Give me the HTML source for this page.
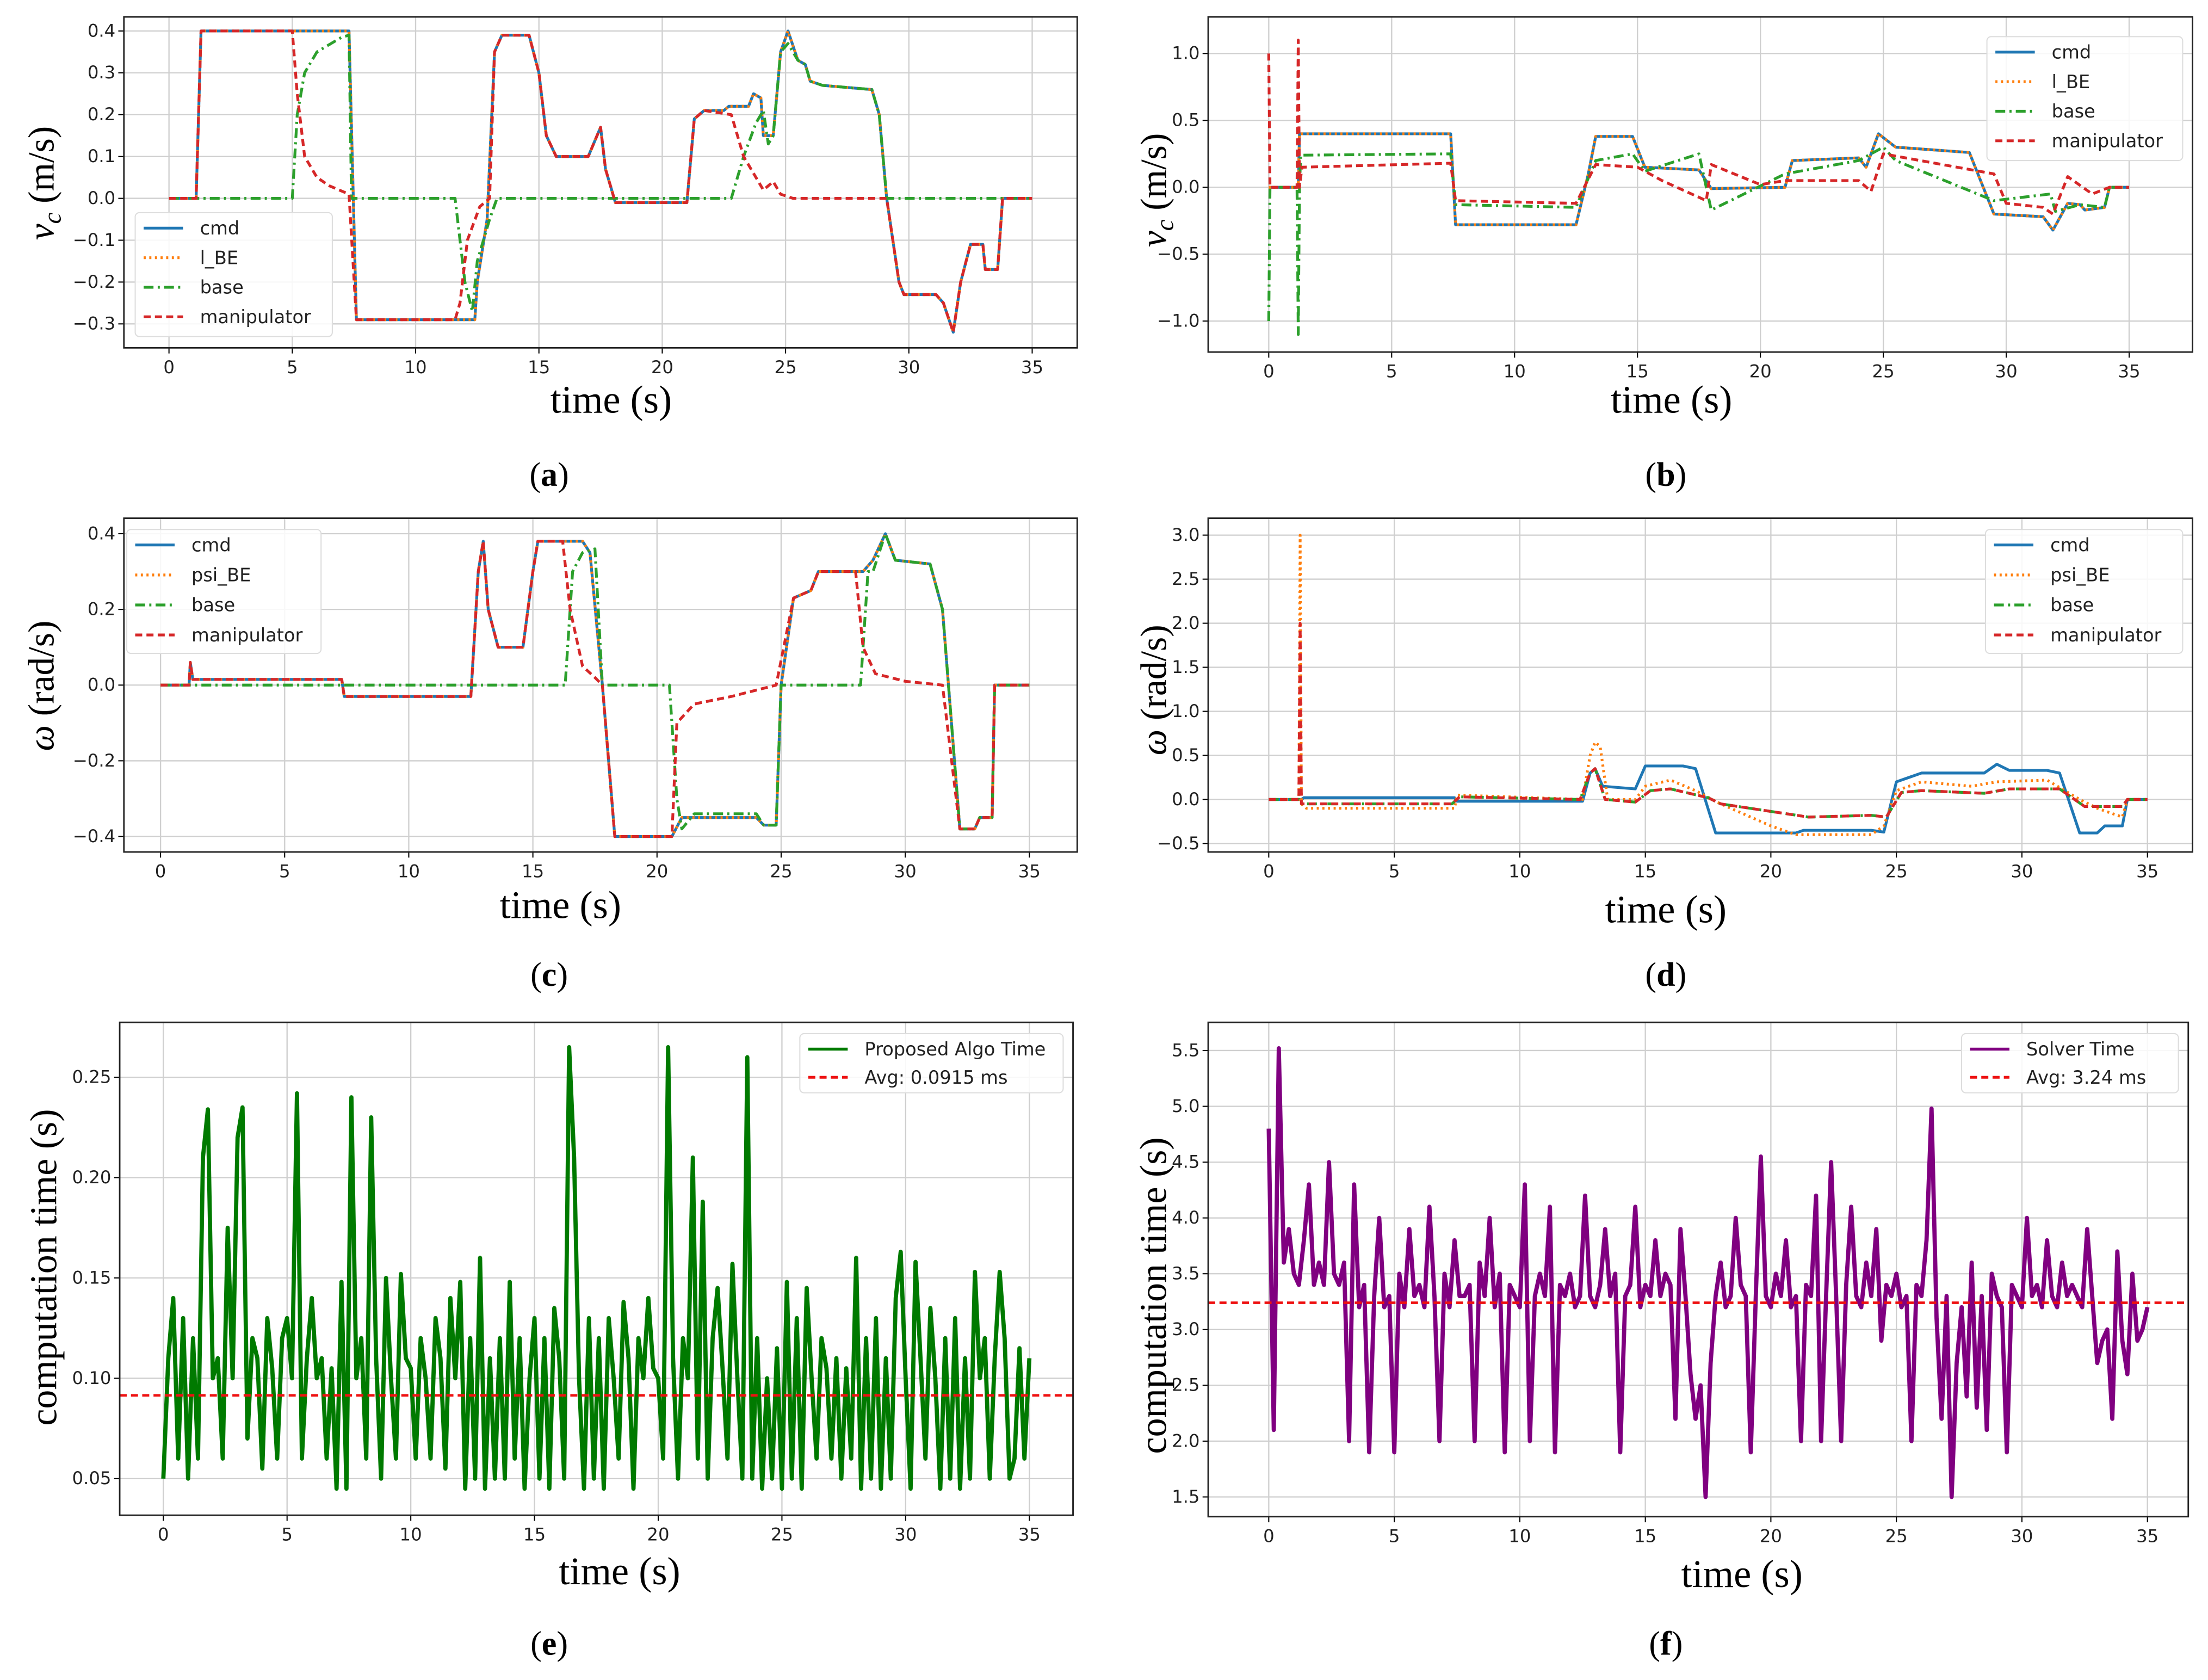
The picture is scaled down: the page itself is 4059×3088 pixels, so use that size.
<!DOCTYPE html>
<html><head><meta charset="utf-8"><style>
html,body{margin:0;padding:0;background:#fff;}
svg{display:block;}
.tk{font-family:"DejaVu Sans","Liberation Sans",sans-serif;font-size:12.5px;fill:#222;}
.lg{font-family:"DejaVu Sans","Liberation Sans",sans-serif;font-size:13px;fill:#222;}
.ser{font-family:"Liberation Serif",serif;fill:#000;}
</style></head><body>
<svg id="fig" width="4059" height="3088" viewBox="0 0 1568 1193" preserveAspectRatio="none" xmlns="http://www.w3.org/2000/svg"></svg>
<script>
// ---------- Panel (a) data: linear velocity ----------
const aCmdT = [0,1.1,1.3,7.3,7.6,12.4,12.5,12.9,13.2,13.5,14.6,15.0,15.3,15.7,17.0,17.5,17.7,18.1,21.0,21.3,21.7,22.5,22.7,23.5,23.7,24.0,24.1,24.5,24.8,25.1,25.5,25.8,26.0,26.5,28.5,28.8,29.1,29.6,29.8,31.1,31.4,31.8,32.1,32.5,33.0,33.1,33.6,33.8,35];
const aCmdV = [0,0,0.4,0.4,-0.29,-0.29,-0.2,-0.05,0.35,0.39,0.39,0.3,0.15,0.1,0.1,0.17,0.07,-0.01,-0.01,0.19,0.21,0.21,0.22,0.22,0.25,0.24,0.15,0.15,0.35,0.40,0.33,0.32,0.28,0.27,0.26,0.2,0.0,-0.2,-0.23,-0.23,-0.25,-0.32,-0.2,-0.11,-0.11,-0.17,-0.17,0.0,0];
const aManT = [0,1.1,1.3,5.0,5.2,5.5,6.0,6.5,7.3,7.6,11.6,11.8,12.1,12.6,13.0,13.2,13.5,14.6,15.0,15.3,15.7,17.0,17.5,17.7,18.1,21.0,21.3,21.7,22.8,23.3,23.8,24.1,24.5,24.8,25.3,28.5,29.1,29.6,29.8,31.1,31.4,31.8,32.1,32.5,33.0,33.1,33.6,33.8,35];
const aManV = [0,0,0.4,0.4,0.25,0.1,0.05,0.03,0.01,-0.29,-0.29,-0.25,-0.1,-0.02,0,0.35,0.39,0.39,0.3,0.15,0.1,0.1,0.17,0.07,-0.01,-0.01,0.19,0.21,0.2,0.1,0.05,0.02,0.04,0.01,0,0,0.0,-0.2,-0.23,-0.23,-0.25,-0.32,-0.2,-0.11,-0.11,-0.17,-0.17,0.0,0];
const aBaseT = [0,5.0,5.2,5.5,6.0,7.0,7.3,7.4,11.6,12.0,12.3,12.5,13.0,13.3,22.8,23.3,23.8,24.1,24.3,24.5,24.8,25.1,25.5,25.8,26.0,26.5,28.5,28.8,29.1,35];
const aBaseV = [0,0,0.2,0.3,0.35,0.385,0.39,0,0,-0.2,-0.27,-0.15,-0.05,0,0,0.1,0.18,0.21,0.13,0.15,0.35,0.37,0.33,0.32,0.28,0.27,0.26,0.2,0,0];
// ---------- Panel (b) ----------
const bCmdT = [0,1.2,1.25,7.4,7.6,12.5,13.0,13.3,14.8,15.3,17.5,18.0,21.0,21.3,24.0,24.3,24.8,25.5,28.5,29.5,31.5,31.9,32.5,33.0,33.2,34.0,34.2,35];
const bCmdV = [0,0,0.4,0.4,-0.28,-0.28,0.1,0.38,0.38,0.15,0.13,-0.01,0.0,0.2,0.22,0.15,0.4,0.3,0.26,-0.2,-0.22,-0.32,-0.12,-0.13,-0.17,-0.15,0,0];
const bBaseT = [0,0.05,1.15,1.2,1.25,1.3,7.4,7.6,12.5,13.3,14.8,15.3,17.5,18.0,21.0,24.0,25.0,25.5,29.5,31.8,32.0,33.0,34.0,34.2,35];
const bBaseV = [-1.0,0,0,-1.1,0.0,0.24,0.25,-0.13,-0.15,0.2,0.25,0.12,0.25,-0.17,0.1,0.2,0.3,0.2,-0.1,-0.05,-0.18,-0.13,-0.15,0,0];
const bManT = [0,0.05,1.15,1.2,1.25,1.35,7.4,7.6,12.5,13.3,15.0,16.0,17.8,18.0,20.0,21.0,24.0,24.5,25.0,29.5,30.0,31.5,31.9,32.5,33.5,34.2,35];
const bManV = [1.0,0,0,1.1,0.0,0.15,0.18,-0.1,-0.12,0.17,0.15,0.05,-0.1,0.17,0.02,0.05,0.05,-0.03,0.25,0.1,-0.12,-0.15,-0.2,0.08,-0.05,0,0];
// ---------- Panel (c) ----------
const cCmdT = [0,1.15,1.2,1.3,7.3,7.4,12.5,12.8,13.0,13.2,13.6,14.6,15.0,15.2,17.0,17.3,17.8,18.3,20.6,21.0,24.0,24.3,24.8,25.0,25.5,26.2,26.5,28.3,28.7,29.2,29.6,31.0,31.5,32.2,32.8,33.0,33.5,33.6,35];
const cCmdV = [0,0,0.06,0.015,0.015,-0.03,-0.03,0.3,0.38,0.2,0.1,0.1,0.3,0.38,0.38,0.35,0,-0.4,-0.4,-0.35,-0.35,-0.37,-0.37,0,0.23,0.25,0.3,0.3,0.33,0.4,0.33,0.32,0.2,-0.38,-0.38,-0.35,-0.35,0,0];
const cManT = [0,1.15,1.2,1.3,7.3,7.4,12.5,12.8,13.0,13.2,13.6,14.6,15.0,15.2,16.2,16.5,17.0,17.5,17.8,18.3,20.6,20.8,21.5,23.0,24.8,25.5,26.2,26.5,28.0,28.3,28.8,30.0,31.5,32.2,32.8,33.0,33.5,33.6,35];
const cManV = [0,0,0.06,0.015,0.015,-0.03,-0.03,0.3,0.38,0.2,0.1,0.1,0.3,0.38,0.38,0.2,0.05,0.02,0,-0.4,-0.4,-0.1,-0.05,-0.03,0,0.23,0.25,0.3,0.3,0.1,0.03,0.01,0,-0.38,-0.38,-0.35,-0.35,0,0];
const cBaseT = [0,16.3,16.6,17.0,17.5,17.8,20.5,20.8,21.0,21.5,24.0,24.3,24.8,25.0,28.2,28.5,28.7,29.2,29.6,31.0,31.5,32.2,32.8,33.0,33.5,33.6,35];
const cBaseV = [0,0,0.3,0.35,0.36,0,0,-0.3,-0.38,-0.34,-0.34,-0.37,-0.37,0,0,0.3,0.3,0.4,0.33,0.32,0.2,-0.38,-0.38,-0.35,-0.35,0,0];
// ---------- Panel (d) ----------
const dCmdT = [0,1.3,1.4,7.4,7.5,12.5,12.8,13.0,13.3,14.6,15.0,16.5,17.0,17.8,21.0,21.3,24.0,24.5,25.0,25.5,26.0,28.5,29.0,29.5,31.0,31.5,32.3,33.0,33.3,34.0,34.2,35];
const dCmdV = [0,0,0.02,0.02,-0.02,-0.02,0.3,0.35,0.15,0.12,0.38,0.38,0.35,-0.38,-0.38,-0.35,-0.35,-0.37,0.2,0.25,0.3,0.3,0.4,0.33,0.33,0.3,-0.38,-0.38,-0.3,-0.3,0,0];
const dPsiT = [0,1.2,1.25,1.3,1.5,7.4,7.5,12.5,12.8,13.0,13.2,13.5,14.6,15.0,16.0,17.0,18.0,20.0,21.0,24.0,24.5,25.0,26.0,28.0,29.0,31.0,32.3,33.0,34.0,34.2,35];
const dPsiV = [0,0,3.0,-0.05,-0.1,-0.1,0.05,0.0,0.5,0.65,0.6,0.0,0.0,0.15,0.22,0.1,-0.05,-0.3,-0.4,-0.4,-0.3,0.1,0.2,0.15,0.2,0.22,0.0,-0.1,-0.2,0,0];
const dBaseT = [0,1.2,1.3,7.3,7.6,12.4,12.8,13.0,13.4,14.6,15.2,16.0,17.5,18.0,21.5,24.0,24.6,25.2,26.0,28.5,29.5,31.5,32.5,34.0,34.2,35];
const dBaseV = [0,0,-0.05,-0.05,0.03,0.0,0.3,0.35,0.0,-0.03,0.1,0.12,0.02,-0.05,-0.2,-0.18,-0.2,0.08,0.1,0.07,0.12,0.12,-0.08,-0.08,0,0];
const dManT = [0,1.2,1.25,1.3,7.3,7.6,12.4,12.8,13.0,13.4,14.6,15.2,16.0,17.5,18.0,21.5,24.0,24.6,25.2,26.0,28.5,29.5,31.5,32.5,34.0,34.2,35];
const dManV = [0,0,2.0,-0.05,-0.05,0.03,0.0,0.3,0.35,0.0,-0.03,0.1,0.12,0.02,-0.05,-0.2,-0.18,-0.2,0.08,0.1,0.07,0.12,0.12,-0.08,-0.08,0,0];
// ---------- Panel (e) computation time, sampled every 0.2 s ----------
const eDt = 0.2;
const eVals = [0.05,0.11,0.14,0.06,0.13,0.05,0.12,0.06,0.21,0.234,
0.10,0.11,0.06,0.175,0.10,0.22,0.235,0.07,0.12,0.11,
0.055,0.13,0.105,0.06,0.12,0.13,0.10,0.242,0.06,0.11,
0.14,0.10,0.11,0.06,0.105,0.045,0.148,0.045,0.24,0.10,
0.12,0.06,0.23,0.11,0.05,0.15,0.10,0.06,0.152,0.11,
0.105,0.06,0.12,0.10,0.06,0.13,0.11,0.055,0.14,0.10,
0.148,0.045,0.12,0.05,0.16,0.045,0.11,0.05,0.12,0.05,
0.148,0.06,0.12,0.045,0.10,0.13,0.05,0.12,0.045,0.135,
0.11,0.05,0.265,0.21,0.10,0.045,0.13,0.05,0.12,0.045,
0.13,0.10,0.06,0.138,0.11,0.045,0.12,0.10,0.14,0.105,
0.10,0.06,0.265,0.11,0.05,0.12,0.10,0.21,0.06,0.188,
0.05,0.12,0.145,0.105,0.06,0.157,0.10,0.05,0.26,0.05,
0.12,0.045,0.10,0.05,0.115,0.045,0.148,0.05,0.13,0.045,
0.145,0.10,0.06,0.12,0.105,0.06,0.11,0.05,0.105,0.06,
0.16,0.045,0.12,0.05,0.13,0.045,0.11,0.05,0.14,0.163,
0.10,0.045,0.158,0.11,0.06,0.135,0.10,0.045,0.12,0.05,
0.13,0.045,0.11,0.05,0.153,0.10,0.12,0.05,0.11,0.153,
0.12,0.05,0.06,0.115,0.06,0.11];
const eAvg = [0.0915];
// ---------- Panel (f) solver time ----------
const fDt = 0.2;
const fVals = [4.8,2.1,5.52,3.6,3.9,3.5,3.4,3.8,4.3,3.4,
3.6,3.4,4.5,3.5,3.4,3.6,2.0,4.3,3.2,3.4,
1.9,3.3,4.0,3.2,3.3,1.9,3.5,3.2,3.9,3.3,
3.4,3.2,4.1,3.3,2.0,3.5,3.2,3.8,3.3,3.3,
3.4,2.0,3.6,3.3,4.0,3.2,3.5,1.9,3.4,3.3,
3.2,4.3,2.0,3.3,3.5,3.3,4.1,1.9,3.4,3.3,
3.5,3.2,3.3,4.2,3.3,3.2,3.4,3.9,3.3,3.5,
1.9,3.3,3.4,4.1,3.2,3.4,3.3,3.8,3.3,3.5,
3.4,2.2,3.9,3.3,2.6,2.2,2.5,1.5,2.7,3.3,
3.6,3.2,3.3,4.0,3.4,3.3,1.9,3.3,4.55,3.3,
3.2,3.5,3.3,3.8,3.2,3.3,2.0,3.4,3.3,4.2,
2.0,3.3,4.5,3.3,2.0,3.4,4.1,3.3,3.2,3.6,
3.3,3.9,2.9,3.4,3.3,3.5,3.2,3.3,2.0,3.4,
3.3,3.8,4.98,3.1,2.2,3.3,1.5,2.7,3.2,2.4,
3.6,2.3,3.3,2.1,3.5,3.3,3.2,1.9,3.4,3.3,
3.2,4.0,3.3,3.4,3.2,3.8,3.3,3.2,3.6,3.3,
3.4,3.3,3.2,3.9,3.3,2.7,2.9,3.0,2.2,3.7,
2.9,2.6,3.5,2.9,3.0,3.2];
const fAvg = [3.24];
const xTicks = [0,5,10,15,20,25,30,35];
const aYTicks = [-0.3,-0.2,-0.1,0.0,0.1,0.2,0.3,0.4];
const bYTicks = [-1.0,-0.5,0.0,0.5,1.0];
const cYTicks = [-0.4,-0.2,0.0,0.2,0.4];
const dYTicks = [-0.5,0.0,0.5,1.0,1.5,2.0,2.5,3.0];
const eYTicks = [0.05,0.10,0.15,0.20,0.25];
const fYTicks = [1.5,2.0,2.5,3.0,3.5,4.0,4.5,5.0,5.5];

const NS = "http://www.w3.org/2000/svg";
const fig = document.getElementById('fig');
function mk(tag, attrs, parent){const e=document.createElementNS(NS,tag);for(const k in attrs)e.setAttribute(k,attrs[k]);(parent||fig).appendChild(e);return e;}
function fmt(v,d){let s=v.toFixed(d);return s.replace('-','\u2212');}

function panel(id, P){
  const g = mk('g',{});
  
  
  const [x0,y0,x1,y1]=P.box;
  const sx = t => P.xp[0] + (P.xp[1]-P.xp[0])*t/35;
  const sy = v => P.yp[0] + (P.yp[1]-P.yp[0])*(v-P.yv[0])/(P.yv[1]-P.yv[0]);
  xTicks.forEach(t=>{
    const l=mk('line',{x1:sx(t),x2:sx(t),y1:y0,y2:y1,stroke:'#cfcfcf','stroke-width':0.9},g);
    
    
    mk('line',{x1:sx(t),x2:sx(t),y1:y1,y2:y1+4,stroke:'#000','stroke-width':0.8},g);
    const tx=mk('text',{x:sx(t),y:y1+18,'text-anchor':'middle',class:'tk'},g);
    tx.textContent=String(t);
    
    
  });
  P.yt.forEach(v=>{
    const l=mk('line',{x1:x0,x2:x1,y1:sy(v),y2:sy(v),stroke:'#cfcfcf','stroke-width':0.9},g);
    
    
    mk('line',{x1:x0-4,x2:x0,y1:sy(v),y2:sy(v),stroke:'#000','stroke-width':0.8},g);
    const tx=mk('text',{x:x0-6,y:sy(v)+4,'text-anchor':'end',class:'tk'},g);
    tx.textContent=fmt(v,P.dec);
    
    
  });
  P.series.forEach(s=>{
    let pts;
    if(s.dt!==undefined){pts=s.v.map((v,i)=>sx(i*s.dt).toFixed(2)+','+sy(v).toFixed(2));}
    else {pts=s.t.map((t,i)=>sx(t).toFixed(2)+','+sy(s.v[i]).toFixed(2));}
    const pl=mk('polyline',{points:pts.join(' '),fill:'none',stroke:s.c,'stroke-width':s.w||2,'stroke-dasharray':s.d||'','stroke-linejoin':'round'},g);
    
    
  });
  if(P.avg!==undefined){
    const al=mk('line',{x1:x0,x2:x1,y1:sy(P.avg),y2:sy(P.avg),stroke:'#ee1111','stroke-width':1.8,'stroke-dasharray':'5,3'},g);
    
    
  }
  const fr=mk('rect',{x:x0,y:y0,width:x1-x0,height:y1-y0,fill:'none',stroke:'#222','stroke-width':1.1},g);
  
  
  const L=P.leg;
  const lg=mk('g',{},g);
  
  
  mk('rect',{x:L.x,y:L.y,width:L.w,height:L.h,rx:3,fill:'#fff','fill-opacity':0.85,stroke:'#ddd','stroke-width':0.8},lg);
  L.items.forEach((it,i)=>{
    const yy=L.y+11+i*L.dy;
    mk('line',{x1:L.x+6,x2:L.x+34,y1:yy,y2:yy,stroke:it.c,'stroke-width':2,'stroke-dasharray':it.d||''},lg);
    const tx=mk('text',{x:L.x+46,y:yy+4.5,class:'lg'},lg);
    tx.textContent=it.label;
    
    
  });
  const xl=mk('text',{x:P.xl[0],y:P.xl[1],'text-anchor':'middle',class:'ser','font-size':28},g);
  xl.textContent='time (s)';
  
  
  const yl=mk('text',{x:P.yl[0],y:P.yl[1],'text-anchor':'middle',class:'ser','font-size':P.ylfs||26,transform:'rotate(-90 '+P.yl[0]+' '+P.yl[1]+')'},g);
  yl.innerHTML=P.ytext;
  
  
  const cap=mk('text',{x:P.cap[0],y:P.cap[1],'text-anchor':'middle',class:'ser','font-size':24},g);
  cap.innerHTML='(<tspan font-weight="bold">'+id+'</tspan>)';
  
  
}
const C={b:'#1f77b4',o:'#ff7f0e',g:'#2ca02c',r:'#d62728'};
const DOT='1.5,2.5', DD='7,3,1.5,3', DA='5,3';
const vLeg=(lab)=>[{label:'cmd',c:C.b},{label:lab,c:C.o,d:DOT},{label:'base',c:C.g,d:DD},{label:'manipulator',c:C.r,d:DA}];
const vc='<tspan font-style="italic">v</tspan><tspan font-style="italic" font-size="18" dy="5">c</tspan><tspan dy="-5"> (m/s)</tspan>';
const om='<tspan font-style="italic">ω</tspan> (rad/s)';

panel('a',{box:[88,12,765,247],xp:[120,733],yv:[0.4,-0.3],yp:[22,230],yt:aYTicks,dec:1,
 series:[{name:'cmd-line',t:aCmdT,v:aCmdV,c:C.b},{name:'l-be-line',t:aCmdT,v:aCmdV,c:C.o,d:DOT},{name:'base-line',t:aBaseT,v:aBaseV,c:C.g,d:DD},{name:'manipulator-line',t:aManT,v:aManV,c:C.r,d:DA}],
 leg:{x:96,y:151,w:140,h:88,dy:21,items:vLeg('l_BE')},xl:[434,293],yl:[38,130],ytext:vc,cap:[390,345]});
panel('b',{box:[858,12,1557,250],xp:[901,1512],yv:[1.0,-1.0],yp:[38,228],yt:bYTicks,dec:1,
 series:[{name:'cmd-line',t:bCmdT,v:bCmdV,c:C.b},{name:'l-be-line',t:bCmdT,v:bCmdV,c:C.o,d:DOT},{name:'base-line',t:bBaseT,v:bBaseV,c:C.g,d:DD},{name:'manipulator-line',t:bManT,v:bManV,c:C.r,d:DA}],
 leg:{x:1411,y:26,w:139,h:88,dy:21,items:vLeg('l_BE')},xl:[1187,293],yl:[828,135],ytext:vc,cap:[1183,345]});
panel('c',{box:[88,368,765,605],xp:[114,731],yv:[0.4,-0.4],yp:[379,594],yt:cYTicks,dec:1,
 series:[{name:'cmd-line',t:cCmdT,v:cCmdV,c:C.b},{name:'psi-be-line',t:cCmdT,v:cCmdV,c:C.o,d:DOT},{name:'base-line',t:cBaseT,v:cBaseV,c:C.g,d:DD},{name:'manipulator-line',t:cManT,v:cManV,c:C.r,d:DA}],
 leg:{x:90,y:376,w:138,h:88,dy:21.3,items:vLeg('psi_BE')},xl:[398,652],yl:[38,487],ytext:om,cap:[390,700]});
panel('d',{box:[858,368,1557,605],xp:[901,1525],yv:[3.0,-0.5],yp:[380,599],yt:dYTicks,dec:1,
 series:[{name:'cmd-line',t:dCmdT,v:dCmdV,c:C.b},{name:'psi-be-line',t:dPsiT,v:dPsiV,c:C.o,d:DOT},{name:'base-line',t:dBaseT,v:dBaseV,c:C.g,d:DD},{name:'manipulator-line',t:dManT,v:dManV,c:C.r,d:DA}],
 leg:{x:1410,y:376,w:140,h:88,dy:21.3,items:vLeg('psi_BE')},xl:[1183,655],yl:[828,490],ytext:om,cap:[1183,700]});
panel('e',{box:[85,726,762,1076],xp:[116,731],yv:[0.25,0.05],yp:[765,1050],yt:eYTicks,dec:2,avg:eAvg[0],
 series:[{name:'proposed-algo-time-line',dt:eDt,v:eVals,c:'#007a00',w:3}],
 leg:{x:568,y:734,w:187,h:42,dy:20,items:[{label:'Proposed Algo Time',c:'#007a00'},{label:'Avg: 0.0915 ms',c:'#ee1111',d:DA}]},
 xl:[440,1125],yl:[40,900],ytext:'computation time (s)',ylfs:27,cap:[390,1175]});
panel('f',{box:[858,726,1554,1077],xp:[901,1525],yv:[5.5,1.5],yp:[746,1063],yt:fYTicks,dec:1,avg:fAvg[0],
 series:[{name:'solver-time-line',dt:fDt,v:fVals,c:'#800080',w:3}],
 leg:{x:1393,y:734,w:154,h:42,dy:20,items:[{label:'Solver Time',c:'#800080'},{label:'Avg: 3.24 ms',c:'#ee1111',d:DA}]},
 xl:[1237,1127],yl:[828,920],ytext:'computation time (s)',ylfs:27,cap:[1183,1175]});
</script>
</body></html>
